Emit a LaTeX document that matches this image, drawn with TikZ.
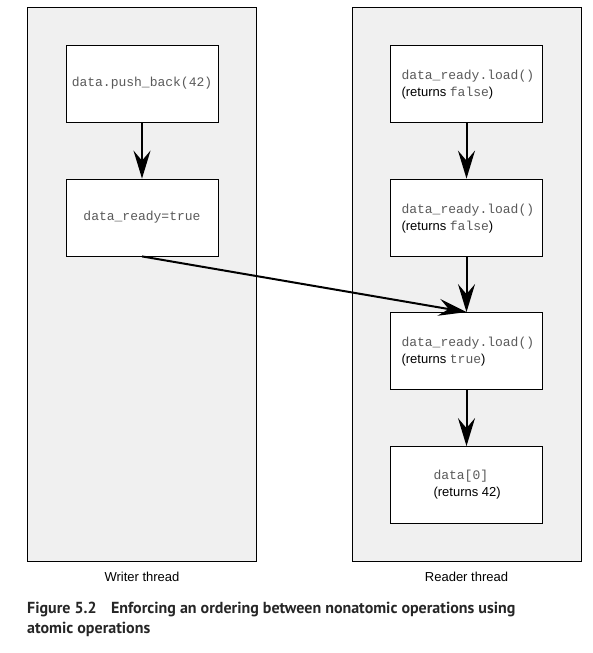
\documentclass[tikz,border=0pt]{standalone}
\usepackage{fontspec}
\setmainfont{Liberation Sans}
\newfontfamily\codefont{Liberation Mono}
\newfontfamily\capfont{PT Sans}
\usetikzlibrary{arrows.meta}
\definecolor{panelgray}{HTML}{F0F0F0}
\definecolor{codegray}{HTML}{5A5A5A}
\tikzset{
  panel/.style={draw=black, line width=0.8pt, fill=panelgray},
  opbox/.style={draw=black, line width=0.8pt, fill=white, minimum width=152pt, minimum height=77pt, inner sep=0pt},
  flow/.style={line width=2pt, -{Stealth[length=28pt, width=17pt, inset=10pt]}},
  lbl/.style={font=\fontsize{13}{15}\selectfont},
  optext/.style={anchor=west, align=left, font=\fontsize{13}{17}\selectfont},
}
\newcommand{\cd}[1]{{\codefont\color{codegray}#1}}
\begin{document}
\begin{tikzpicture}[x=1pt, y=-1pt]
\useasboundingbox (0,0) rectangle (593,653);
% panels
\draw[panel] (27,7) rectangle (256,561);
\draw[panel] (352,7) rectangle (581,561);
% left boxes
\node[opbox] (w1) at (142,83.5) {\fontsize{13}{15}\selectfont\cd{data.push\_back(42)}};
\node[opbox] (w2) at (142,217.5) {\fontsize{13}{15}\selectfont\cd{data\_ready=true}};
% right boxes
\node[opbox] (r1) at (466.5,83.5) {};
\node[opbox] (r2) at (466.5,217.5) {};
\node[opbox] (r3) at (466.5,351) {};
\node[opbox] (r4) at (466.5,485) {};
\node[optext] (t1) at (398,85) {\cd{data\_ready.load()}\\(returns \cd{false})};
\node[optext] (t2) at (398,219) {\cd{data\_ready.load()}\\(returns \cd{false})};
\node[optext] (t3) at (398,352) {\cd{data\_ready.load()}\\(returns \cd{true})};
\node[optext] (t4) at (430,485) {\cd{data[0]}\\(returns 42)};
% arrows
\draw[flow] (w1.south) -- (w2.north);
\draw[flow] (r1.south) -- (r2.north);
\draw[flow] (r2.south) -- (r3.north);
\draw[flow] (r3.south) -- (r4.north);
\draw[flow] (w2.south) -- (r3.north);
% labels
\node[lbl] (wl) at (142,577) {Writer thread};
\node[lbl] (rl) at (466.5,577) {Reader thread};
% caption
\node[anchor=north west, align=left, inner sep=0pt, font=\capfont\bfseries\fontsize{16}{20}\selectfont, text=black!85] (cap) at (27,602)
 {Figure 5.2\hspace{0.9em}Enforcing an ordering between nonatomic operations using\\atomic operations};
\end{tikzpicture}
\end{document}
